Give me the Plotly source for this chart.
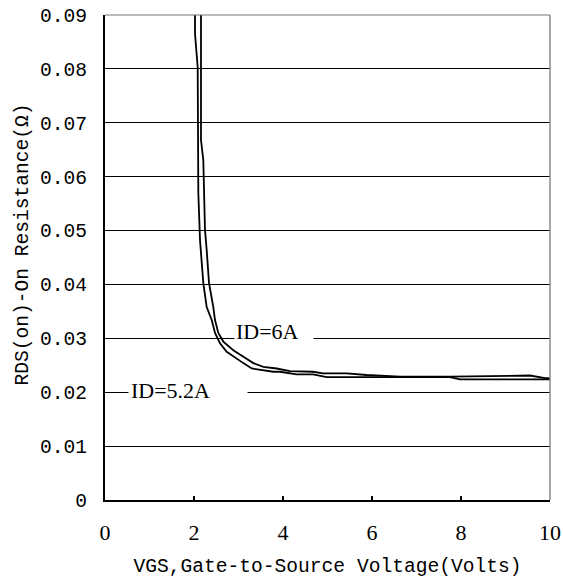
import plotly.graph_objects as go

# Curve for ID=5.2A (left-hand curve)
vgs_a = [2.022, 2.022, 2.083, 2.097, 2.135, 2.209, 2.285, 2.398, 2.472, 2.584, 2.735, 2.883,
         3.108, 3.297, 3.557, 3.782, 3.933, 4.308, 4.674, 4.982, 5.955, 7.753, 7.978, 10.0]
rds_a = [0.0900, 0.0866, 0.0803, 0.0570, 0.0482, 0.0403, 0.0358, 0.0334, 0.0310, 0.0291, 0.0275, 0.0266,
         0.0254, 0.0244, 0.0241, 0.0238, 0.0238, 0.0233, 0.0233, 0.0228, 0.0228, 0.0228, 0.0224, 0.0224]

# Curve for ID=6A (right-hand curve)
vgs_b = [2.157, 2.157, 2.209, 2.247, 2.285, 2.337, 2.434, 2.472, 2.546, 2.658, 2.883, 3.108,
         3.333, 3.557, 3.858, 4.157, 4.674, 4.899, 5.431, 5.881, 6.629, 7.753, 9.551, 9.888, 10.0]
rds_b = [0.0900, 0.0668, 0.0631, 0.0501, 0.0464, 0.0403, 0.0358, 0.0334, 0.0310, 0.0294, 0.0278, 0.0266,
         0.0254, 0.0247, 0.0244, 0.0239, 0.0238, 0.0235, 0.0235, 0.0232, 0.0229, 0.0229, 0.0231, 0.0226, 0.0226]

x_ticks = [0, 2, 4, 6, 8, 10]
y_ticks = [0, 0.01, 0.02, 0.03, 0.04, 0.05, 0.06, 0.07, 0.08, 0.09]
y_ticktext = ["0", "0.01", "0.02", "0.03", "0.04", "0.05", "0.06", "0.07", "0.08", "0.09"]

label_a = "ID=5.2A"
label_b = "ID=6A"

MONO = "Liberation Mono"
SERIF = "Liberation Serif"

fig = go.Figure()
fig.add_trace(go.Scatter(x=vgs_a, y=rds_a, mode="lines", name=label_a,
                         line=dict(color="black", width=1.8)))
fig.add_trace(go.Scatter(x=vgs_b, y=rds_b, mode="lines", name=label_b,
                         line=dict(color="black", width=1.8)))

fig.update_layout(
    width=563, height=583,
    margin=dict(l=105, r=13, t=15, b=83, autoexpand=False),
    paper_bgcolor="white", plot_bgcolor="white",
    showlegend=False,
    xaxis=dict(
        range=[0, 10], tickvals=x_ticks, ticks="inside", ticklen=4, tickwidth=1.5, tickcolor="black",
        showline=True, linecolor="black", linewidth=2, showgrid=False, zeroline=False, automargin=False,
        tickfont=dict(family=SERIF, size=22, color="black"), ticklabelstandoff=12,
        title=dict(text="VGS,Gate-to-Source Voltage(Volts)",
                   font=dict(family=MONO, size=19.6, color="black"), standoff=14),
    ),
    yaxis=dict(
        range=[0, 0.09], tickvals=y_ticks, ticktext=y_ticktext, ticks="", ticklen=0,
        showline=True, linecolor="black", linewidth=2, showgrid=True, gridcolor="black",
        gridwidth=1, zeroline=False, automargin=False,
        tickfont=dict(family=MONO, size=19.6, color="black"), ticklabelstandoff=12,
    ),
    annotations=[
        dict(text="RDS(on)-On Resistance(Ω)", xref="paper", yref="paper", x=-0.185, y=0.526,
             textangle=-90, showarrow=False, xanchor="center", yanchor="middle",
             font=dict(family=MONO, size=19.6, color="black")),
        dict(text=label_b, x=3.80, y=0.0312, xref="x", yref="y", showarrow=False,
             bgcolor="white", width=76, align="left", borderpad=1,
             font=dict(family=SERIF, size=22, color="black")),
        dict(text=label_a, x=1.86, y=0.0204, xref="x", yref="y", showarrow=False,
             bgcolor="white", width=114, align="left", borderpad=2,
             font=dict(family=SERIF, size=22, color="black")),
    ],
    shapes=[
        dict(type="line", xref="paper", yref="paper", x0=1, x1=1, y0=0, y1=1,
             line=dict(color="#8a8a8a", width=1.5)),
        dict(type="line", xref="paper", yref="paper", x0=0, x1=1, y0=1, y1=1,
             line=dict(color="#777777", width=1)),
    ],
)

fig.write_html("out.html")
